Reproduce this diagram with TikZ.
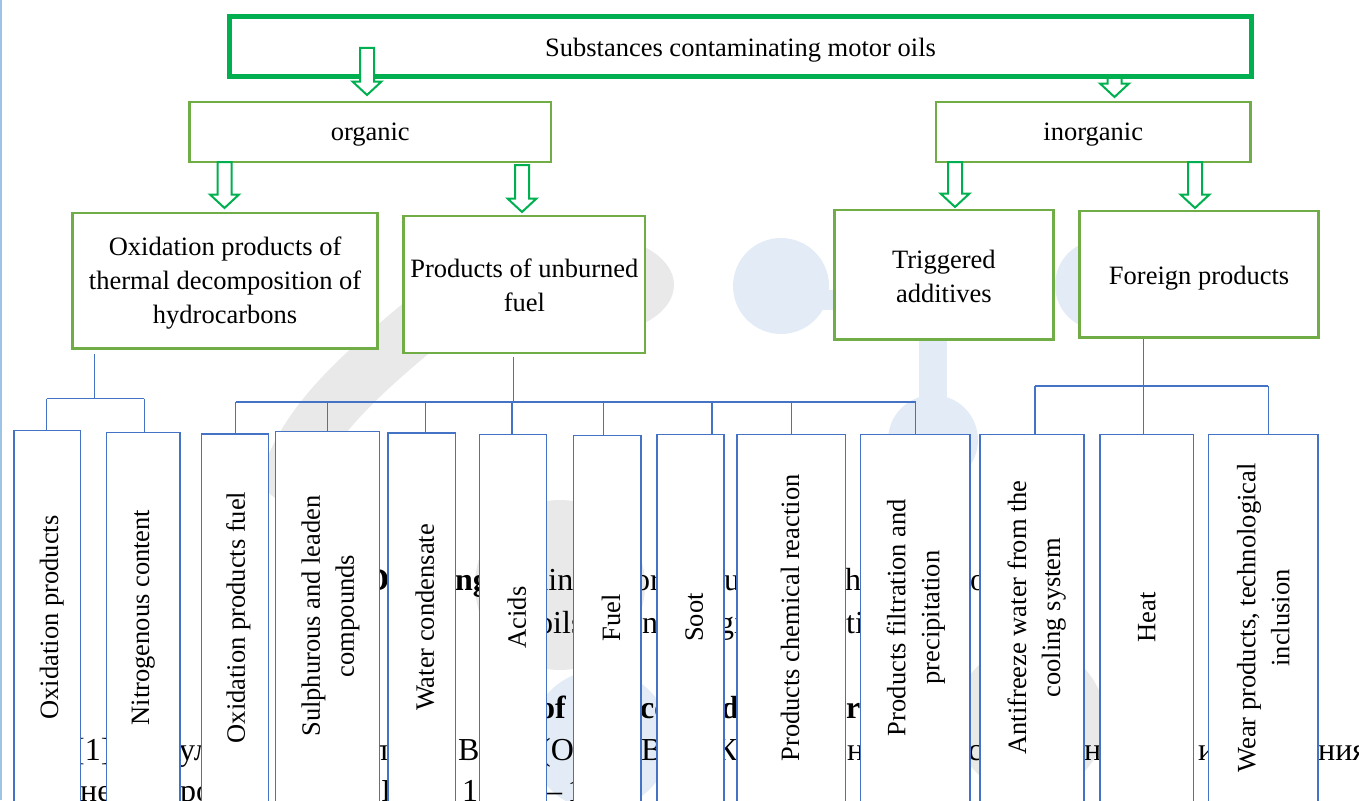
\documentclass[tikz,border=0pt]{standalone}
\usepackage{fontspec}
\setmainfont{Liberation Serif}
\usetikzlibrary{calc}
\definecolor{gbright}{HTML}{00B050}
\definecolor{gmid}{HTML}{70AD47}
\definecolor{bline}{HTML}{4472C4}
\definecolor{wmgrey}{HTML}{E9E9E9}
\definecolor{wmblue}{HTML}{E3ECF6}
\definecolor{edgeblue}{HTML}{9DC3E6}
\newcommand\mainfs{\fontsize{26.5}{34}\selectfont}
\newcommand\bgfs{\fontsize{32}{38}\selectfont}
\newcommand\hollowarrow[2]{%
  \draw[harr] let \p1=(#1), \p2=(#2) in
  (\x1-7pt,\y1) -- (\x1+7pt,\y1) -- (\x1+7pt,\y2+13.5pt) -- (\x1+14.5pt,\y2+13.5pt)
  -- (\x1,\y2) -- (\x1-14.5pt,\y2+13.5pt) -- (\x1-7pt,\y2+13.5pt) -- cycle;}
\tikzset{
  gbox/.style={draw=gmid, line width=2.5pt, fill=white, inner sep=0pt},
  topbox/.style={draw=gbright, line width=4.5pt, fill=white, inner sep=0pt},
  htext/.style={align=center, inner sep=0pt, font=\mainfs},
  vbox/.style={draw=bline, line width=1.3pt, fill=white, inner sep=0pt, anchor=north west},
  vtext/.style={rotate=90, align=center, inner sep=0pt, font=\mainfs},
  conn/.style={draw=bline, line width=1.3pt},
  harr/.style={draw=gbright, line width=2pt, fill=white, line join=miter},
  bg/.style={anchor=base west, inner sep=0pt, font=\bgfs},
  bgb/.style={bg, font=\bgfs\bfseries},
}
\begin{document}
\begin{tikzpicture}[x=1pt,y=-1pt]
\useasboundingbox (0,0) rectangle (1359,800);
\clip (0,0) rectangle (1359,800);
% ---------- watermark ----------
\fill[wmgrey] (590,285) ellipse [x radius=84, y radius=50];
\draw[wmgrey, line width=55pt, line cap=round] (420,325) .. controls (360,375) and (310,420) .. (290,475);
\fill[wmgrey] (560,585) circle [radius=85];
\fill[wmblue] (600,740) circle [radius=70];
\fill[wmgrey] (1030,720) circle [radius=75];
\fill[wmblue] (781,286) circle [radius=48];
\draw[wmblue, line width=20pt] (781,300) -- (840,300);
\draw[wmblue, line width=28pt] (933,330) -- (933,420);
\fill[wmblue] (933,440) circle [radius=45];
\fill[wmblue] (1100,285) circle [radius=45];
\draw[edgeblue, line width=2pt] (1,0) -- (1,800);
% ---------- background text ----------
\node[bgb] (ba1) at (366,590) {D};
\node[bgb] (ba2) at (455,590) {ng};
\node[bg] (ba3) at (534,590) {ain};
\node[bg] (ba4) at (634,590) {or};
\node[bg] (ba5) at (724,590) {u};
\node[bg] (ba6) at (845,590) {h};
\node[bg] (ba7) at (970,590) {o};
\node[bg] (bb1) at (537,633) {oils};
\node[bg] (bb2) at (642,633) {n};
\node[bg] (bb3) at (718,633) {gi};
\node[bg] (bb4) at (846,633) {ti};
\node[bgb] (bc1) at (539,718) {of};
\node[bgb] (bc2) at (640,718) {ce};
\node[bgb] (bc3) at (721,718) {d};
\node[bgb] (bc4) at (846,718) {re};
\node[bg] (bd1) at (74,760) {[1]};
\node[bg] (bd2) at (179,760) {ул};
\node[bg] (bd3) at (372,760) {л};
\node[bg] (bd4) at (458,760) {В};
\node[bg] (bd5) at (540,760) {(Ос};
\node[bg] (bd6) at (641,760) {В};
\node[bg] (bd7) at (716,760) {Ко};
\node[bg] (bd8) at (847,760) {н};
\node[bg] (bd9) at (968,760) {с};
\node[bg] (bd10) at (1084,760) {но};
\node[bg] (bd11) at (1198,760) {и};
\node[bg] (bd12) at (1318,760) {ния};
\node[bg] (be1) at (80,801) {не};
\node[bg] (be2) at (180,801) {ро};
\node[bg] (be3) at (381,801) {I};
\node[bg] (be4) at (462,801) {1};
\node[bg] (be5) at (546,801) {–\,1};
% ---------- bottom boxes ----------
\foreach \n/\xa/\xb/\yt in {b1/13.2/80/430, b2/106/179.3/431.7, b3/201/268/433.3, b4/275/379/430.7,
  b5/387.3/454.7/432.3, b6/478.7/545.7/434, b7/573/640.3/435, b8/656.3/723.3/434,
  b9/736.3/844.7/434, b10/859.7/969.3/434, b11/979.3/1083.3/434, b12/1099.3/1192.7/434,
  b13/1208/1317.3/434}
  {\pgfmathsetmacro\w{\xb-\xa}\pgfmathsetmacro\h{830-\yt}
   \node[vbox, minimum width=\w pt, minimum height=\h pt] (\n) at (\xa,\yt) {};}
\node[vtext] (t1) at (51.7,617.5) {Oxidation products};
\node[vtext] (t2) at (143.3,617.5) {Nitrogenous content};
\node[vtext] (t3) at (238.3,617.5) {Oxidation products fuel};
\node[vtext] (t4) at (330.4,616) {Sulphurous and leaden\\compounds};
\node[vtext] (t5) at (425,617.5) {Water condensate};
\node[vtext] (t6) at (516.7,617.5) {Acids};
\node[vtext] (t7) at (611,617.5) {Fuel};
\node[vtext] (t8) at (694.3,617.5) {Soot};
\node[vtext] (t9) at (790,618) {Products chemical reaction};
\node[vtext] (t10) at (915.8,617.5) {Products filtration and\\precipitation};
\node[vtext] (t11) at (1036.7,617.5) {Antifreeze water from the\\cooling system};
\node[vtext] (t12) at (1146.7,617.5) {Heat};
\node[vtext] (t13) at (1263.3,618) {Wear products, technological\\inclusion};
% ---------- top levels ----------
\coordinate (a2s) at (1114.5,70); \coordinate (a2e) at (1114.5,97);
\hollowarrow{a2s}{a2e}
\node[topbox, minimum width=1022pt, minimum height=60pt] (top) at (740.5,46.5) {};
\node[htext] (top-t) at ([yshift=-3.5pt]top.center) {Substances contaminating motor oils};
\coordinate (a1s) at (367,48); \coordinate (a1e) at (367,95);
\hollowarrow{a1s}{a1e}
\node[gbox, minimum width=361.5pt, minimum height=60pt] (org) at (370.25,132) {};
\node[htext] (org-t) at ([yshift=-3pt]org.center) {organic};
\node[gbox, minimum width=314.5pt, minimum height=60pt] (inorg) at (1093.25,132) {};
\node[htext] (inorg-t) at ([yshift=-3pt]inorg.center) {inorganic};
\coordinate (a3s) at (224.5,162); \coordinate (a3e) at (224.5,208);
\coordinate (a4s) at (522,165);   \coordinate (a4e) at (522,212);
\coordinate (a5s) at (955,162);   \coordinate (a5e) at (955,207);
\coordinate (a6s) at (1195,162);  \coordinate (a6e) at (1195,208);
\hollowarrow{a3s}{a3e}
\hollowarrow{a4s}{a4e}
\hollowarrow{a5s}{a5e}
\hollowarrow{a6s}{a6e}
\node[gbox, minimum width=304.8pt, minimum height=135.9pt] (oxt) at (225.1,280.75) {};
\node[htext] (oxt-t) at ([yshift=-2pt]oxt.center) {Oxidation products of\\thermal decomposition of\\hydrocarbons};
\node[gbox, minimum width=241.3pt, minimum height=136.8pt] (unb) at (524.35,284.4) {};
\node[htext] (unb-t) at ([yshift=-1pt]unb.center) {Products of unburned\\fuel};
\node[gbox, minimum width=218.8pt, minimum height=129.5pt] (trig) at (943.9,274.75) {};
\node[htext] (trig-t) at ([yshift=-1.5pt]trig.center) {Triggered\\additives};
\node[gbox, minimum width=239.2pt, minimum height=126.5pt] (fp) at (1199.1,274.25) {};
\node[htext] (fp-t) at ([yshift=-3.5pt]fp.center) {Foreign products};
% ---------- connectors ----------
\coordinate (jL) at (94.3,398.7);
\coordinate (hL1) at (46.5,398.7);
\coordinate (hL2) at (144.2,398.7);
\draw[conn, shorten <=4pt] (jL |- oxt.south) -- (jL);
\draw[conn] (hL1) -- (hL2);
\draw[conn] (hL1) -- (hL1 |- b1.north);
\draw[conn] (hL2) -- (hL2 |- b2.north);
\coordinate (jU) at (513.3,402);
\coordinate (hU1) at (235.7,402);
\coordinate (hU2) at (915.7,402);
\draw[conn, shorten <=3pt] (jU |- unb.south) -- (jU);
\draw[conn] (hU1) -- (hU2);
\foreach \x/\b in {235.7/b3, 327.3/b4, 425.7/b5, 512/b6, 603.3/b7, 712/b8, 791.7/b9, 915.7/b10}
  {\coordinate (d\b) at (\x,402); \draw[conn] (d\b) -- (d\b |- \b.north);}
\coordinate (jF) at (1143.3,386);
\coordinate (hF1) at (1035,386);
\coordinate (hF2) at (1268.3,386);
\draw[conn] (jF |- fp.south) -- (jF |- b12.north);
\draw[conn] (hF1) -- (hF2);
\draw[conn] (hF1) -- (hF1 |- b11.north);
\draw[conn] (hF2) -- (hF2 |- b13.north);
\end{tikzpicture}
\end{document}
